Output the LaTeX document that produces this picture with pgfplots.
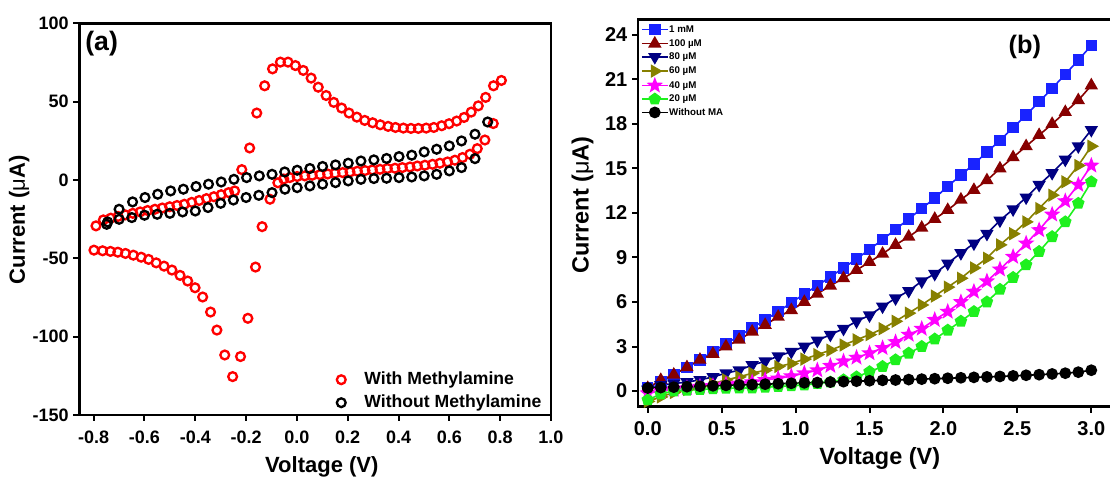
\documentclass[border=0pt]{standalone}
\usepackage{pgfplots}
\usepackage{pgfplotstable}
\pgfplotsset{compat=1.18}
\usepackage{fontspec}
\setmainfont{Liberation Sans}
\definecolor{cblue}{RGB}{25,35,255}
\definecolor{cdred}{RGB}{135,0,0}
\definecolor{cnavy}{RGB}{0,0,130}
\definecolor{colive}{RGB}{135,128,0}
\definecolor{cmag}{RGB}{255,0,255}
\definecolor{cgreen}{RGB}{30,240,30}
\definecolor{cred}{RGB}{255,0,0}
\pgfdeclareplotmark{fstar}{%
  \pgfpathmoveto{\pgfpointpolar{90}{\pgfplotmarksize}}%
  \pgfpathlineto{\pgfpointpolar{126}{0.42\pgfplotmarksize}}%
  \pgfpathlineto{\pgfpointpolar{162}{\pgfplotmarksize}}%
  \pgfpathlineto{\pgfpointpolar{198}{0.42\pgfplotmarksize}}%
  \pgfpathlineto{\pgfpointpolar{234}{\pgfplotmarksize}}%
  \pgfpathlineto{\pgfpointpolar{270}{0.42\pgfplotmarksize}}%
  \pgfpathlineto{\pgfpointpolar{306}{\pgfplotmarksize}}%
  \pgfpathlineto{\pgfpointpolar{342}{0.42\pgfplotmarksize}}%
  \pgfpathlineto{\pgfpointpolar{18}{\pgfplotmarksize}}%
  \pgfpathlineto{\pgfpointpolar{54}{0.42\pgfplotmarksize}}%
  \pgfpathclose
  \pgfusepathqfillstroke}

\pgfplotstableread{
x y
-0.791 -29.3
-0.762 -25.5
-0.733 -24.4
-0.704 -23.3
-0.675 -22.3
-0.646 -21.3
-0.617 -20.4
-0.588 -19.5
-0.559 -18.7
-0.530 -17.9
-0.501 -17.1
-0.472 -16.3
-0.443 -15.5
-0.414 -14.3
-0.385 -13.1
-0.356 -11.9
-0.327 -10.7
-0.298 -9.4
-0.269 -8.1
-0.245 -7.0
-0.217 6.6
-0.186 20.4
-0.158 42.7
-0.127 60.1
-0.096 70.9
-0.065 75.2
-0.035 75.2
-0.006 73.0
0.025 69.9
0.056 65.0
0.084 59.2
0.115 53.9
0.145 49.5
0.176 45.9
0.205 42.7
0.236 40.1
0.267 38.0
0.298 36.5
0.328 35.2
0.359 34.2
0.388 33.5
0.419 33.1
0.449 32.9
0.478 32.9
0.509 33.1
0.539 33.5
0.570 34.6
0.599 35.9
0.629 37.6
0.658 39.9
0.686 43.3
0.714 47.3
0.743 52.7
0.774 60.1
0.805 63.5
0.773 36.0
0.740 25.5
0.710 20.0
0.681 16.4
0.652 14.3
0.622 12.6
0.593 11.5
0.563 10.7
0.534 10.0
0.504 9.4
0.474 8.9
0.445 8.3
0.415 7.9
0.386 7.5
0.356 7.3
0.327 6.8
0.297 6.4
0.268 6.0
0.238 5.6
0.209 5.1
0.180 4.7
0.150 4.3
0.121 3.8
0.091 3.4
0.060 3.0
0.031 2.6
0.001 2.2
-0.028 1.5
-0.052 0.6
-0.075 -1.8
-0.106 -12.3
-0.137 -29.8
-0.163 -55.6
-0.193 -88.3
-0.222 -112.7
-0.253 -125.5
-0.284 -111.7
-0.315 -95.8
-0.340 -84.3
-0.371 -74.7
-0.401 -68.8
-0.430 -64.5
-0.460 -60.9
-0.492 -57.5
-0.523 -55.0
-0.554 -52.9
-0.584 -50.7
-0.613 -49.3
-0.644 -48.0
-0.675 -46.9
-0.705 -46.1
-0.734 -45.6
-0.765 -45.2
-0.799 -44.8
}\withMA

\pgfplotstableread{
x y
-0.749 -28.3
-0.700 -18.7
-0.647 -14.0
-0.598 -11.2
-0.548 -9.1
-0.497 -7.0
-0.447 -5.9
-0.397 -4.2
-0.348 -2.7
-0.298 -1.3
-0.248 0.4
-0.198 1.5
-0.148 2.6
-0.098 3.6
-0.048 5.1
0.001 6.2
0.051 7.3
0.101 8.6
0.152 9.6
0.202 10.7
0.252 12.1
0.303 12.8
0.353 13.7
0.402 14.9
0.452 15.8
0.501 17.9
0.550 19.6
0.600 21.7
0.648 24.9
0.701 29.2
0.751 37.0
0.701 13.6
0.648 7.9
0.600 5.8
0.550 3.6
0.501 2.6
0.452 1.9
0.402 1.5
0.353 1.1
0.303 0.9
0.252 0.4
0.202 -0.6
0.152 -1.7
0.101 -2.7
0.051 -3.8
0.001 -4.9
-0.047 -5.9
-0.098 -8.1
-0.150 -9.8
-0.200 -11.2
-0.250 -12.8
-0.300 -14.9
-0.350 -17.6
-0.400 -19.8
-0.450 -20.4
-0.500 -21.3
-0.550 -21.9
-0.600 -22.5
-0.650 -24.0
-0.700 -25.1
-0.745 -26.8
}\withoutMA

\pgfplotstableread{
x blue dred navy olive mag green black
0.000 0.25 0.2 0.1 -0.7 -0.15 -0.6 0.2
0.088 0.6 0.74 0.4 -0.4 0.0 -0.2 0.23
0.176 1.1 1.1 0.5 -0.1 0.1 0.0 0.26
0.265 1.6 1.6 0.6 0.1 0.2 0.05 0.29
0.353 2.1 2.1 0.75 0.3 0.3 0.1 0.32
0.441 2.65 2.5 0.95 0.5 0.35 0.15 0.35
0.529 3.2 3.0 1.2 0.75 0.45 0.18 0.38
0.618 3.7 3.45 1.4 0.95 0.5 0.2 0.41
0.706 4.25 4.0 1.75 1.2 0.6 0.2 0.43
0.794 4.8 4.45 2.0 1.4 0.75 0.25 0.46
0.882 5.35 5.0 2.35 1.65 0.85 0.3 0.49
0.971 5.95 5.45 2.65 1.85 1.0 0.35 0.52
1.059 6.55 6.0 3.0 2.15 1.2 0.4 0.55
1.147 7.1 6.55 3.4 2.45 1.4 0.5 0.57
1.235 7.7 7.1 3.8 2.75 1.7 0.6 0.6
1.324 8.3 7.6 4.2 3.1 2.0 0.75 0.63
1.412 8.9 8.15 4.7 3.45 2.25 0.95 0.66
1.500 9.55 8.7 5.1 3.8 2.55 1.3 0.69
1.588 10.2 9.25 5.7 4.2 2.9 1.65 0.72
1.676 10.9 9.85 6.25 4.7 3.3 2.1 0.74
1.765 11.6 10.4 6.75 5.25 3.8 2.55 0.77
1.853 12.3 11.0 7.4 5.8 4.2 3.0 0.8
1.941 13.0 11.6 7.9 6.4 4.8 3.5 0.83
2.029 13.8 12.2 8.6 7.0 5.35 4.1 0.86
2.118 14.55 12.9 9.3 7.6 6.0 4.7 0.89
2.206 15.3 13.55 9.95 8.3 6.7 5.35 0.92
2.294 16.1 14.2 10.6 8.95 7.4 6.0 0.95
2.382 16.9 15.0 11.5 9.85 8.2 6.85 0.98
2.471 17.75 15.75 12.25 10.6 9.05 7.65 1.02
2.559 18.6 16.5 13.05 11.4 9.95 8.5 1.06
2.647 19.5 17.25 13.9 12.3 10.85 9.4 1.1
2.735 20.4 18.0 14.7 13.2 11.9 10.4 1.15
2.824 21.35 18.8 15.6 14.1 12.8 11.4 1.2
2.912 22.3 19.6 16.5 15.2 13.9 12.65 1.27
3.000 23.3 20.6 17.6 16.5 15.2 14.1 1.4
}\ivdata

\pgfplotsset{
  myframe/.style={
    scale only axis,
    anchor=south west,
    axis line style={line width=2pt},
    tick style={line width=1.5pt, black},
    major tick length=4.5pt,
    tick align=outside,
    xtick pos=left, ytick pos=left,
    clip=false,
  }
}

\begin{document}
\begin{tikzpicture}
\path[use as bounding box] (0,0) rectangle (832.5pt,357.75pt);

% ---------------- panel (a)
\begin{axis}[myframe,
  at={(59.6pt,46.5pt)},
  width=353.6pt, height=293.8pt,
  xmin=-0.856, xmax=1.0, ymin=-150, ymax=100,
  xtick={-0.8,-0.6,-0.4,-0.2,0,0.2,0.4,0.6,0.8,1.0},
  xticklabels={-0.8,-0.6,-0.4,-0.2,0.0,0.2,0.4,0.6,0.8,1.0},
  ytick={-150,-100,-50,0,50,100},
  yticklabels={-150,-100,-50,0,50,100},
  tick label style={font=\bfseries\fontsize{13.5pt}{16pt}\selectfont},
  xticklabel style={yshift=-4pt},
  xlabel={Voltage (V)},
  ylabel={Current ({\mdseries μ}A)},
  xlabel style={at={(axis description cs:0.514,-0.132)}, anchor=center, font=\bfseries\fontsize{16.5pt}{20pt}\selectfont},
  ylabel style={at={(axis description cs:-0.128,0.498)}, anchor=center, font=\bfseries\fontsize{16.5pt}{20pt}\selectfont},
  legend style={at={(0.530,0.006)}, anchor=south west, draw=none, fill=none, inner sep=0pt, row sep=2.75pt,
    nodes={inner sep=1pt, text height=9.5pt, text depth=3pt, font=\bfseries\fontsize{13.2pt}{16pt}\selectfont}},
  legend cell align=left,
  legend image code/.code={\path (0cm,0cm) (0.87cm,0cm); \draw[#1] plot coordinates {(0.3cm,0cm)};},
]
\addplot[only marks, mark=o, cred, mark size=3.3pt, mark options={line width=1.75pt}] table[x=x,y=y] {\withMA};
\addlegendentry{With Methylamine}
\addplot[only marks, mark=o, black, mark size=3.3pt, mark options={line width=1.75pt}] table[x=x,y=y] {\withoutMA};
\addlegendentry{Without Methylamine}
\node[font=\bfseries\fontsize{20pt}{24pt}\selectfont] at (rel axis cs:0.047,0.947) {(a)};
\end{axis}

% ---------------- panel (b)
\begin{axis}[myframe,
  at={(478.5pt,52.7pt)},
  width=355.5pt, height=290.6pt,
  xmin=-0.066, xmax=3.14, ymin=-1.06, ymax=25.06,
  xtick={0,0.5,1,1.5,2,2.5,3},
  xticklabels={0.0,0.5,1.0,1.5,2.0,2.5,3.0},
  ytick={0,3,6,9,12,15,18,21,24},
  yticklabels={0,3,6,9,12,15,18,21,24},
  tick label style={font=\bfseries\fontsize{15pt}{18pt}\selectfont},
  xticklabel style={yshift=-3pt},
  xlabel={Voltage (V)},
  ylabel={Current ({\mdseries μ}A)},
  xlabel style={at={(axis description cs:0.51,-0.133)}, anchor=center, font=\bfseries\fontsize{17.6pt}{21pt}\selectfont},
  ylabel style={at={(axis description cs:-0.117,0.52)}, anchor=center, font=\bfseries\fontsize{17.6pt}{21pt}\selectfont},
  legend style={at={(0.006,0.988)}, anchor=north west, draw=none, fill=none, inner sep=0pt, row sep=2pt,
    nodes={inner sep=0.5pt, text height=5.5pt, text depth=1.5pt, font=\bfseries\fontsize{7.3pt}{8pt}\selectfont}},
  legend cell align=left,
  legend image code/.code={\draw[mark repeat=2,mark phase=2,#1] plot coordinates {(0cm,0cm) (0.34cm,0cm) (0.68cm,0cm)};},
  every axis plot/.append style={line width=1.2pt},
]
\addplot[cblue, mark=square*, mark size=3.7pt] table[x=x,y=blue] {\ivdata};
\addlegendentry{1 mM}
\addplot[cdred, mark=triangle*, mark size=4.6pt] table[x=x,y=dred] {\ivdata};
\addlegendentry{100 µM}
\addplot[cnavy, mark=triangle*, mark size=4.6pt, mark options={rotate=180}] table[x=x,y=navy] {\ivdata};
\addlegendentry{80 µM}
\addplot[colive, mark=triangle*, mark size=4.6pt, mark options={rotate=-90}] table[x=x,y=olive] {\ivdata};
\addlegendentry{60 µM}
\addplot[cmag, mark=fstar, mark size=4.8pt] table[x=x,y=mag] {\ivdata};
\addlegendentry{40 µM}
\addplot[cgreen, mark=pentagon*, mark size=4.2pt] table[x=x,y=green] {\ivdata};
\addlegendentry{20 µM}
\addplot[black, mark=*, mark size=3.8pt] table[x=x,y=black] {\ivdata};
\addlegendentry{Without MA}
\node[font=\bfseries\fontsize{19pt}{23pt}\selectfont] at (rel axis cs:0.816,0.929) {(b)};
\end{axis}
\end{tikzpicture}
\end{document}
